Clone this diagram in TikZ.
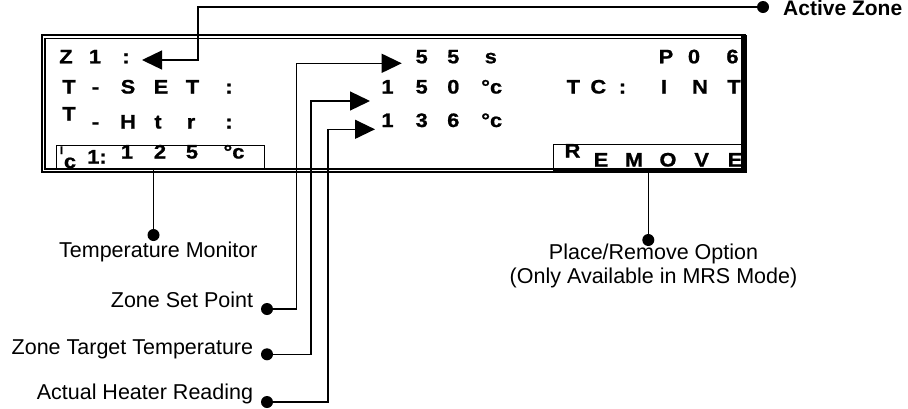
\documentclass[tikz,border=0pt]{standalone}
\usepackage{fontspec}
\setmainfont{Liberation Sans}
\newfontfamily\lcdfont[FakeStretch=1.12, FakeBold=1]{Liberation Sans}
\usetikzlibrary{arrows.meta,calc}
\begin{document}
\begin{tikzpicture}[x=1pt,y=-1pt,
  lcd/.style={font=\lcdfont\fontsize{19.5}{19.5}\selectfont\bfseries, inner sep=0pt, anchor=base},
  lbl/.style={font=\fontsize{21.5}{24}\selectfont, inner sep=0pt, anchor=base},
  conn/.style={line width=1.3pt},
  arr/.style={conn, -{Triangle[length=20pt,width=19pt]}},
  dotnode/.style={circle, fill=black, inner sep=0pt, minimum size=12pt},
  boxnode/.style={draw, line width=1pt, inner sep=0pt}]
\useasboundingbox (0,0) rectangle (908,408);
% LCD frame
\draw[line width=1.5pt] (42,35) rectangle (745,172);
\draw[line width=1.5pt] (45,38.5) rectangle (742,169);
\fill (740.5,35) rectangle (747,172.5);
% boxes
\node[boxnode, minimum width=208pt, minimum height=23pt] (tmbox) at (160,156.5) {};
\node[boxnode, minimum width=188pt, minimum height=24pt] (rmbox) at (647,156.5) {};
\fill (553,168) rectangle (747,172.5);
% row 1
\foreach \x/\c [count=\i] in {66/Z,95/1,126/:,421.7/5,453.3/5,490.8/s,666/P,694/0,732.5/6}
  \node[lcd] (ra\i) at (\x,63.3) {\c};
% row 2
\foreach \x/\c [count=\i] in {69/T,95.5/-,128/S,161/E,192.5/T,229/:,387.5/1,421.7/5,453.3/0,491.7/°c,573.3/T,598.3/C,622.5/:,664/I,700/N,734/T}
  \node[lcd] (rb\i) at (\x,93.5) {\c};
% row 3
\node[lcd] (rc0) at (69,120.5) {T};
\foreach \x/\c [count=\i] in {95.5/-,128/H,158/t,191/r,229/:}
  \node[lcd] (rc\i) at (\x,128.5) {\c};
\foreach \x/\c [count=\i] in {387.5/1,421.7/3,453.3/6,491.7/°c}
  \node[lcd] (rd\i) at (\x,127) {\c};
% row 4
\node[lcd, font=\lcdfont\fontsize{11}{11}\selectfont\bfseries] (re1) at (61.5,154) {I};
\node[lcd] (re2) at (70,168) {c};
\node[lcd] (re3) at (97,163.5) {1:};
\foreach \x/\c [count=\i from 4] in {127/1,160/2,192/5,234/°c}
  \node[lcd] (re\i) at (\x,158.5) {\c};
\node[lcd] (rf1) at (572.5,157.5) {R};
\foreach \x/\c [count=\i from 2] in {601/E,634/M,668/O,701.7/V,735/E}
  \node[lcd] (rf\i) at (\x,166.5) {\c};
% labels
\node[lbl, anchor=base west, font=\fontsize{21}{24}\selectfont\bfseries] (laz) at (783,15) {Active Zone};
\node[lbl] (ltm) at (158.3,257.3) {Temperature Monitor};
\node[lbl, anchor=base east] (lsp) at (253.3,307.7) {Zone Set Point};
\node[lbl, anchor=base east] (ltt) at (253.3,354) {Zone Target Temperature};
\node[lbl, anchor=base east] (lah) at (253.3,399) {Actual Heater Reading};
\node[lbl, align=center] (lpr) at (653.5,283.5) {Place/Remove Option\\(Only Available in MRS Mode)};
% dots
\node[dotnode] (daz) at (763,7) {};
\node[dotnode] (dtm) at (153.5,235) {};
\node[dotnode] (dpr) at (648.3,240) {};
\node[dotnode] (dsp) at (267,309) {};
\node[dotnode] (dtt) at (267,354.3) {};
\node[dotnode] (dah) at (267,402) {};
% coordinates
\coordinate (z1bend) at (198,60);
\coordinate (z1tip) at (142,60);
\coordinate (spbend) at (296.7,63.3);
\coordinate (sptip) at (401.7,63.3);
\coordinate (ttbend) at (311,101);
\coordinate (tttip) at (370,101);
\coordinate (ahbend) at (328,129.3);
\coordinate (ahtip) at (375,129.3);
% connectors
\draw[arr] (daz.center) -- (daz.center -| z1bend) -- (z1bend) -- (z1tip);
\draw[arr] (dsp.center) -| (spbend) -- (sptip);
\draw[arr] (dtt.center) -| (ttbend) -- (tttip);
\draw[arr] (dah.center) -| (ahbend) -- (ahtip);
\draw[conn] (dtm.center) -- (dtm.center |- tmbox.south);
\draw[conn] (dpr.center) -- (dpr.center |- rmbox.south);
\end{tikzpicture}
\end{document}
